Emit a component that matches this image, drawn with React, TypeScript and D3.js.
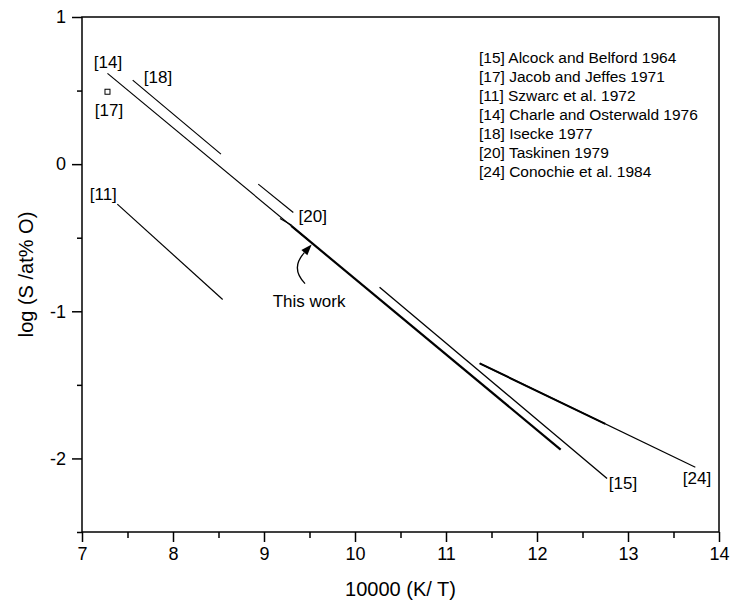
import { useEffect, useRef } from 'react';
import * as d3 from 'd3';

// x = 10000/T, y = log(S / at% O)
const xTicks = [7, 8, 9, 10, 11, 12, 13, 14];
const xMinorTicks = [7.5, 8.5, 9.5, 10.5, 11.5, 12.5, 13.5];
const yTicks = [1, 0, -1, -2];
const yMinorTicks = [0.5, -0.5, -1.5, -2.5];

const legendEntries = [
    '[15] Alcock and Belford 1964',
    '[17] Jacob and Jeffes 1971',
    '[11] Szwarc et al. 1972',
    '[14] Charle and Osterwald 1976',
    '[18] Isecke 1977',
    '[20] Taskinen 1979',
    '[24] Conochie et al. 1984'
];

const line14 = [[7.28, 0.617], [9.5, -0.522]];
const line18 = [[7.557, 0.571], [8.527, 0.068]];
const line11 = [[7.388, -0.272], [8.546, -0.92]];
const line20a = [[8.937, -0.136], [9.322, -0.329]];
const line20b = [[9.176, -0.369], [9.305, -0.415]];
const lineThisWork = [[9.3, -0.42], [12.26, -1.94]];
const line15 = [[10.27, -0.837], [12.77, -2.136]];
const line24 = [[11.37, -1.354], [13.74, -2.06]];
const line24Thick = [[11.37, -1.354], [12.75, -1.765]];
const point17 = [7.28, 0.492];

const refLabels = [
    { text: '[14]', x: 7.286, y: 0.694 },
    { text: '[17]', x: 7.297, y: 0.367 },
    { text: '[18]', x: 7.835, y: 0.592 },
    { text: '[11]', x: 7.234, y: -0.206 },
    { text: '[20]', x: 9.535, y: -0.354 },
    { text: '[15]', x: 12.945, y: -2.17 },
    { text: '[24]', x: 13.758, y: -2.136 }
];

const thisWorkLabel = { text: 'This work', x: 9.495, y: -0.932 };
// arrow: tail, bend, tip
const arrowPts = [[9.451, -0.812], [9.33, -0.68], [9.524, -0.546]];

const W = 733;
const H = 600;
const FONT = '"Liberation Sans", Arial, Helvetica, sans-serif';

const App = () => {
    const svgRef = useRef<SVGSVGElement>(null);

    useEffect(() => {
        const svg = d3.select(svgRef.current);
        svg.selectAll('*').remove();

        const margin = { top: 17, right: 14, bottom: 68, left: 82 };
        const width = W - margin.left - margin.right;
        const height = H - margin.top - margin.bottom;

        const x = d3.scaleLinear().domain([7, 14]).range([0, width]);
        const y = d3.scaleLinear().domain([-2.5, 1]).range([height, 0]);

        const g = svg.append('g')
            .attr('transform', `translate(${margin.left},${margin.top})`);

        // frame
        g.append('rect')
            .attr('width', width)
            .attr('height', height)
            .attr('fill', 'none')
            .attr('stroke', '#000')
            .attr('stroke-width', 1.5);

        const fmt = (d: any) => String(d);

        // minor ticks
        const xMinor = g.append('g')
            .attr('transform', `translate(0,${height})`)
            .call(d3.axisBottom(x).tickValues(xMinorTicks).tickSize(6).tickFormat(() => ''));
        const yMinor = g.append('g')
            .call(d3.axisLeft(y).tickValues(yMinorTicks).tickSize(5).tickFormat(() => ''));

        // major ticks
        const xAxis = g.append('g')
            .attr('transform', `translate(0,${height})`)
            .call(d3.axisBottom(x).tickValues(xTicks).tickSize(10).tickPadding(5).tickFormat(fmt));
        const yAxis = g.append('g')
            .call(d3.axisLeft(y).tickValues(yTicks).tickSize(10).tickPadding(6).tickFormat(fmt));

        [xMinor, yMinor, xAxis, yAxis].forEach(a => {
            a.select('.domain').remove();
            a.selectAll('line').attr('stroke', '#000').attr('stroke-width', 1.5);
            a.selectAll('text')
                .attr('fill', '#000')
                .style('font-family', FONT)
                .style('font-size', '18px');
        });

        // axis titles
        g.append('text')
            .attr('x', width / 2)
            .attr('y', height + 64)
            .attr('text-anchor', 'middle')
            .style('font-family', FONT)
            .style('font-size', '20px')
            .text('10000 (K/ T)');

        g.append('text')
            .attr('transform', `translate(${-56},${height / 2}) rotate(-90)`)
            .attr('text-anchor', 'middle')
            .attr('dy', '0.35em')
            .style('font-family', FONT)
            .style('font-size', '20px')
            .text('log (S /at% O)');

        const line = d3.line<number[]>()
            .x(d => x(d[0]))
            .y(d => y(d[1]));

        const drawLine = (pts: number[][], w: number) => {
            g.append('path')
                .datum(pts)
                .attr('fill', 'none')
                .attr('stroke', '#000')
                .attr('stroke-width', w)
                .attr('d', line);
        };

        drawLine(line14, 1.2);
        drawLine(line18, 1.2);
        drawLine(line11, 1.2);
        drawLine(line20a, 1.2);
        drawLine(line20b, 1.2);
        drawLine(lineThisWork, 2.2);
        drawLine(line15, 1.3);
        drawLine(line24, 1.2);
        drawLine(line24Thick, 2);

        // [17] point
        g.append('rect')
            .attr('x', x(point17[0]) - 2.5)
            .attr('y', y(point17[1]) - 2.5)
            .attr('width', 5)
            .attr('height', 5)
            .attr('fill', '#fff')
            .attr('stroke', '#000')
            .attr('stroke-width', 1);

        // reference labels
        g.selectAll('text.ref')
            .data(refLabels)
            .join('text')
            .attr('class', 'ref')
            .attr('x', d => x(d.x))
            .attr('y', d => y(d.y))
            .attr('dy', '0.35em')
            .attr('text-anchor', 'middle')
            .style('font-family', FONT)
            .style('font-size', '17px')
            .text(d => d.text);

        // "This work" and arrow
        g.append('text')
            .attr('x', x(thisWorkLabel.x))
            .attr('y', y(thisWorkLabel.y))
            .attr('dy', '0.35em')
            .attr('text-anchor', 'middle')
            .style('font-family', FONT)
            .style('font-size', '17px')
            .text(thisWorkLabel.text);

        const [tail, bend, tip] = arrowPts.map(p => [x(p[0]), y(p[1])]);
        const ang = Math.atan2(tip[1] - bend[1], tip[0] - bend[0]);
        const headLen = 11;
        const base = [tip[0] - headLen * Math.cos(ang), tip[1] - headLen * Math.sin(ang)];
        const p = d3.path();
        p.moveTo(tail[0], tail[1]);
        p.quadraticCurveTo(bend[0] - 4, bend[1] + 4, base[0], base[1]);
        g.append('path')
            .attr('d', p.toString())
            .attr('fill', 'none')
            .attr('stroke', '#000')
            .attr('stroke-width', 1.3);
        const perp = ang + Math.PI / 2;
        const hw = 4;
        g.append('path')
            .attr('d', `M${tip[0]},${tip[1]}L${base[0] + hw * Math.cos(perp)},${base[1] + hw * Math.sin(perp)}L${base[0] - hw * Math.cos(perp)},${base[1] - hw * Math.sin(perp)}Z`)
            .attr('fill', '#000');

        // legend
        g.append('g')
            .attr('transform', `translate(${479 - margin.left},${58 - margin.top})`)
            .selectAll('text')
            .data(legendEntries)
            .join('text')
            .attr('y', (d, i) => i * 19)
            .attr('dy', '0.35em')
            .style('font-family', FONT)
            .style('font-size', '15.5px')
            .text(d => d);
    }, []);

    return (
        <svg
            ref={svgRef}
            width={W}
            height={H}
            style={{ position: 'absolute', left: 0, top: 0, background: '#fff' }}
        />
    );
};

export default App;
